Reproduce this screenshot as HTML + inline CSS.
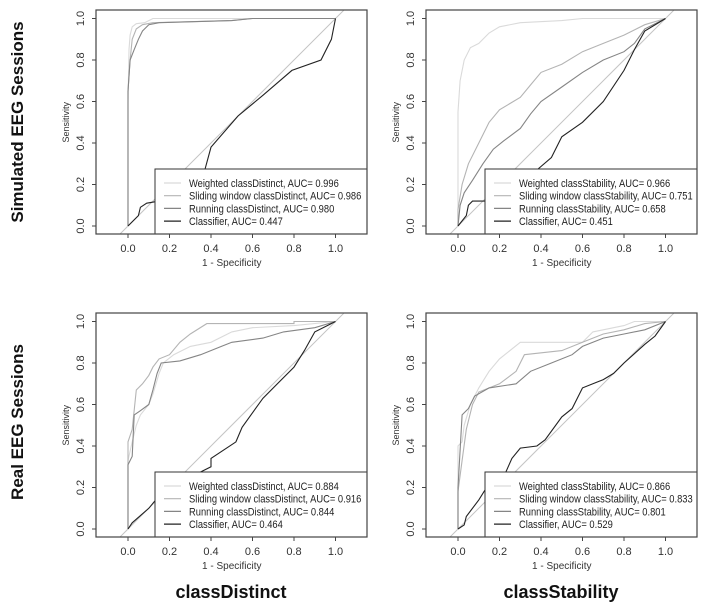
<!DOCTYPE html>
<html><head><meta charset="utf-8"><style>
html,body{margin:0;padding:0;background:#fff;}
svg{display:block;font-family:"Liberation Sans",Arial,sans-serif;}
</style></head><body>
<svg id="fig" width="708" height="603" viewBox="0 0 708 603">
<text x="23" y="122" transform="rotate(-90 23 122)" text-anchor="middle" font-size="17" font-weight="bold" fill="#111">Simulated EEG Sessions</text>
<text x="23" y="422" transform="rotate(-90 23 422)" text-anchor="middle" font-size="17" font-weight="bold" fill="#111">Real EEG Sessions</text>
<text x="231" y="598" text-anchor="middle" font-size="18" font-weight="bold" fill="#111">classDistinct</text>
<text x="561" y="598" text-anchor="middle" font-size="18" font-weight="bold" fill="#111">classStability</text>
</svg>
<script>
// Panel data (fpr, tpr pairs)
const tlWeighted=[[0,0],[0,0.6],[0.005,0.85],[0.01,0.92],[0.02,0.96],[0.04,0.975],[0.08,0.98],[0.12,1],[1,1]];
const tlSliding=[[0,0],[0,0.65],[0.01,0.8],[0.02,0.9],[0.04,0.95],[0.07,0.97],[0.12,0.98],[0.5,0.99],[0.6,1],[1,1]];
const tlRunning=[[0,0],[0,0.65],[0.01,0.8],[0.03,0.85],[0.05,0.9],[0.07,0.94],[0.1,0.97],[0.15,0.98],[0.5,0.99],[0.6,1],[1,1]];
const tlClassifier=[[0,0],[0.05,0.05],[0.06,0.09],[0.09,0.11],[0.15,0.12],[0.3,0.2],[0.37,0.27],[0.4,0.38],[0.53,0.53],[0.65,0.63],[0.79,0.75],[0.93,0.8],[0.98,0.9],[1,1]];
const trWeighted=[[0,0],[0,0.55],[0.01,0.7],[0.03,0.8],[0.06,0.86],[0.1,0.88],[0.15,0.93],[0.2,0.96],[0.3,0.98],[0.5,0.99],[0.6,1],[1,1]];
const trSliding=[[0,0],[0,0.08],[0.02,0.2],[0.05,0.3],[0.1,0.4],[0.15,0.5],[0.2,0.56],[0.3,0.62],[0.35,0.68],[0.4,0.74],[0.5,0.78],[0.6,0.84],[0.7,0.88],[0.8,0.92],[0.9,0.97],[1,1]];
const trRunning=[[0,0],[0.01,0.1],[0.03,0.16],[0.07,0.22],[0.12,0.3],[0.17,0.37],[0.22,0.41],[0.3,0.47],[0.35,0.54],[0.4,0.6],[0.5,0.67],[0.6,0.74],[0.7,0.8],[0.8,0.84],[0.85,0.88],[0.9,0.95],[1,1]];
const trClassifier=[[0,0],[0.04,0.05],[0.05,0.1],[0.07,0.12],[0.2,0.12],[0.3,0.2],[0.38,0.27],[0.45,0.33],[0.5,0.43],[0.6,0.5],[0.7,0.6],[0.8,0.75],[0.85,0.85],[0.9,0.94],[1,1]];
const blWeighted=[[0,0],[0,0.33],[0.02,0.42],[0.04,0.5],[0.06,0.55],[0.1,0.6],[0.12,0.65],[0.15,0.75],[0.17,0.8],[0.22,0.84],[0.3,0.88],[0.4,0.9],[0.5,0.95],[0.6,0.97],[0.8,0.98],[1,1]];
const blSliding=[[0,0],[0,0.42],[0.02,0.48],[0.04,0.67],[0.07,0.7],[0.1,0.74],[0.12,0.78],[0.15,0.82],[0.2,0.84],[0.25,0.9],[0.3,0.94],[0.38,0.99],[0.8,0.99],[0.8,1],[1,1]];
const blRunning=[[0,0],[0,0.31],[0.02,0.35],[0.03,0.55],[0.06,0.57],[0.1,0.6],[0.12,0.67],[0.14,0.75],[0.16,0.8],[0.25,0.81],[0.35,0.84],[0.45,0.88],[0.5,0.9],[0.65,0.92],[0.75,0.95],[0.9,0.97],[1,1]];
const blClassifier=[[0,0],[0.02,0.03],[0.1,0.1],[0.15,0.16],[0.3,0.25],[0.4,0.3],[0.4,0.34],[0.52,0.42],[0.55,0.49],[0.65,0.63],[0.8,0.78],[0.85,0.86],[0.9,0.95],[1,1]];
const brWeighted=[[0,0],[0,0.4],[0.02,0.42],[0.03,0.5],[0.06,0.6],[0.1,0.68],[0.15,0.76],[0.2,0.82],[0.3,0.9],[0.6,0.9],[0.65,0.95],[0.8,0.98],[0.85,1],[1,1]];
const brSliding=[[0,0],[0,0.18],[0.02,0.33],[0.04,0.48],[0.07,0.6],[0.1,0.66],[0.2,0.7],[0.28,0.76],[0.32,0.84],[0.5,0.86],[0.6,0.9],[0.7,0.94],[0.8,0.96],[0.9,0.99],[1,1]];
const brRunning=[[0,0],[0,0.2],[0.02,0.55],[0.05,0.58],[0.08,0.64],[0.15,0.68],[0.28,0.7],[0.35,0.76],[0.45,0.8],[0.55,0.84],[0.6,0.88],[0.7,0.92],[0.8,0.94],[0.9,0.96],[1,1]];
const brClassifier=[[0,0],[0.03,0.02],[0.04,0.06],[0.1,0.14],[0.15,0.22],[0.22,0.25],[0.26,0.34],[0.3,0.39],[0.38,0.4],[0.42,0.43],[0.5,0.54],[0.55,0.58],[0.6,0.68],[0.7,0.72],[0.75,0.75],[0.8,0.8],[0.9,0.89],[0.95,0.93],[1,1]];
const tlLabels=["Weighted classDistinct, AUC= 0.996","Sliding window classDistinct, AUC= 0.986","Running classDistinct, AUC= 0.980","Classifier, AUC= 0.447"];
const trLabels=["Weighted classStability, AUC= 0.966","Sliding window classStability, AUC= 0.751","Running classStability, AUC= 0.658","Classifier, AUC= 0.451"];
const blLabels=["Weighted classDistinct, AUC= 0.884","Sliding window classDistinct, AUC= 0.916","Running classDistinct, AUC= 0.844","Classifier, AUC= 0.464"];
const brLabels=["Weighted classStability, AUC= 0.866","Sliding window classStability, AUC= 0.833","Running classStability, AUC= 0.801","Classifier, AUC= 0.529"];
const tickValues=[0,0.2,0.4,0.6,0.8,1];
const tickLabels=["0.0","0.2","0.4","0.6","0.8","1.0"];

const NS="http://www.w3.org/2000/svg";
const svg=document.getElementById('fig');
const colors=["#dadada","#b4b4b4","#858585","#222"];
const seriesNames=["weighted","sliding","running","classifier"];
function mk(tag,attrs,parent){const e=document.createElementNS(NS,tag);for(const k in attrs)e.setAttribute(k,attrs[k]);(parent||svg).appendChild(e);return e;}
function panel(id,x0,yTop,series,labels){
  const xz=x0+32, unit=207.5, yz=yTop+216;
  const sx=v=>xz+v*unit, sy=v=>yz-v*unit;
  const left=x0, right=x0+271, top=yTop, bottom=yTop+224;
  const g=mk('g',{});
  
  
  const cp=mk('clipPath',{id:'clip-'+id},g);
  mk('rect',{x:left,y:top,width:right-left,height:bottom-top},cp);
  const diag=mk('line',{x1:sx(-0.2),y1:sy(-0.2),x2:sx(1.2),y2:sy(1.2),stroke:"#c4c4c4","stroke-width":1,"clip-path":"url(#clip-"+id+")"},g);
  
  
  series.forEach((s,i)=>{
    const p=mk('polyline',{points:s.map(d=>sx(d[0]).toFixed(1)+","+sy(d[1]).toFixed(1)).join(" "),fill:"none",stroke:colors[i],"stroke-width":1.1,"clip-path":"url(#clip-"+id+")"},g);
    
    
  });
  const lx=x0+59, ly=yTop+159;
  const lg=mk('g',{},g);
  
  
  mk('rect',{x:lx,y:ly,width:right-lx,height:bottom-ly,fill:"#fff",stroke:"#333","stroke-width":1},lg);
  labels.forEach((t,i)=>{
    const yy=ly+14+i*12.7;
    const l=mk('line',{x1:lx+9,y1:yy,x2:lx+26,y2:yy,stroke:colors[i],"stroke-width":1.2},lg);
    
    
    const tx=mk('text',{x:lx+34,y:yy+4,"font-size":11,fill:"#222"},lg);
    tx.textContent=t;
    
    
    const w=tx.getComputedTextLength();
    if(w>0){tx.setAttribute('textLength',(w*0.85).toFixed(1));tx.setAttribute('lengthAdjust','spacingAndGlyphs');}
  });
  const box=mk('rect',{x:left,y:top,width:right-left,height:bottom-top,fill:"none",stroke:"#444","stroke-width":1.2},g);
  
  
  tickValues.forEach((v,i)=>{
    mk('line',{x1:sx(v),y1:bottom,x2:sx(v),y2:bottom+4,stroke:"#444"},g);
    const t=mk('text',{x:sx(v),y:bottom+18,"font-size":11,"text-anchor":"middle",fill:"#333"},g);
    t.textContent=tickLabels[i];
    
    
    mk('line',{x1:left,y1:sy(v),x2:left-4,y2:sy(v),stroke:"#444"},g);
    const ty=mk('text',{x:left-12,y:sy(v),"font-size":11,"text-anchor":"middle",fill:"#333",transform:"rotate(-90 "+(left-12)+" "+sy(v)+")"},g);
    ty.textContent=tickLabels[i];
    
    
  });
  const xt=mk('text',{x:sx(0.5),y:bottom+32,"font-size":10,"text-anchor":"middle",fill:"#333"},g);
  xt.textContent="1 - Specificity";
  
  
  const yx=left-27, yy=sy(0.5);
  const yt=mk('text',{x:yx,y:yy,"font-size":9,"text-anchor":"middle",fill:"#333",transform:"rotate(-90 "+yx+" "+yy+")"},g);
  yt.textContent="Sensitivity";
  
  
}
panel('simulated-classdistinct',96,10,[tlWeighted,tlSliding,tlRunning,tlClassifier],tlLabels);
panel('simulated-classstability',426,10,[trWeighted,trSliding,trRunning,trClassifier],trLabels);
panel('real-classdistinct',96,313,[blWeighted,blSliding,blRunning,blClassifier],blLabels);
panel('real-classstability',426,313,[brWeighted,brSliding,brRunning,brClassifier],brLabels);
</script>
</body></html>
